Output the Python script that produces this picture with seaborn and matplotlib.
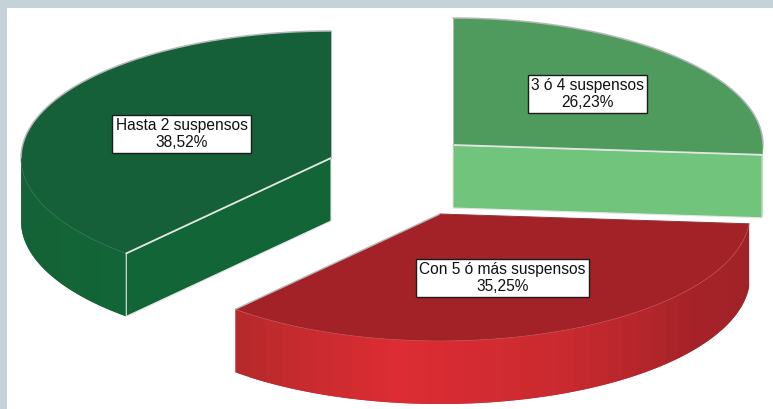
import numpy as np
import matplotlib
matplotlib.use("Agg")
import matplotlib.pyplot as plt
import seaborn as sns

# data, clockwise from 12 o'clock
labels = ["3 ó 4 suspensos", "Con 5 ó más suspensos", "Hasta 2 suspensos"]
shares = [26.23, 35.25, 38.52]

# look of each slice
top_colors = ["#4f9b5d", "#a32227", "#156038"]
cut_colors = ["#71c47c", None, "#116536"]
wall_colors = [
    ["#71c47c", "#71c47c"],
    ["#b62a2b", "#dd2c33", "#ca2a30", "#a62328", "#9f2227"],
    ["#156038", "#146337", "#116536"],
]
front_edge = ["#71c47c", "#c4504f", "#2f7a50"]
apexes = [(453, 145), (440, 214), (331, 158)]
label_pos = [(587.5, 94), (502.5, 278), (181.5, 134)]

RX, RY = 310, 127
DEPTH = 63
BAND = "#c5d2da"
GREY = "#b4b8b6"
PALE = "#e2e6e2"

sns.set_theme(style="white")
plt.rcParams["font.family"] = ["Liberation Sans", "DejaVu Sans"]

fig, ax = plt.subplots(figsize=(7.73, 4.09), dpi=100)
fig.subplots_adjust(0, 0, 1, 1)
ax.set_xlim(0, 773)
ax.set_ylim(409, 0)
ax.axis("off")
ax.axhspan(0, 8, color=BAND, lw=0, zorder=0)
ax.axvspan(0, 7, color=BAND, lw=0, zorder=0)


def rim(cx, cy, t):
    return cx + RX * np.cos(t), cy - RY * np.sin(t)


start = 90.0
for i, share in enumerate(shares):
    end = start - share * 3.6
    cx, cy = apexes[i]
    t = np.radians(np.linspace(start, end, 300))
    x, y = rim(cx, cy, t)

    # outer wall, only the part that faces the viewer
    lo, hi = max(end, -180.0), min(start, 0.0)
    if hi > lo:
        n = 36
        pal = sns.blend_palette(wall_colors[i], n)
        edges = np.radians(np.linspace(lo, hi, n + 1))
        for k in range(n):
            # each strip runs under the next one so no seams show
            ts = np.linspace(edges[k], edges[min(k + 2, n)], 8)
            wx, wy = rim(cx, cy, ts)
            ax.fill(np.r_[wx, wx[::-1]], np.r_[wy, wy[::-1] + DEPTH],
                    facecolor=pal[k], lw=0, zorder=2 + k * 0.001)

    # flat cut face towards the viewer
    cut_line = None
    if cut_colors[i] is not None:
        px, py = rim(cx, cy, np.radians(end if i == 0 else start))
        ax.fill([cx, px, px, cx], [cy, py, py + DEPTH, cy + DEPTH],
                facecolor=cut_colors[i], edgecolor=PALE, lw=0.8, zorder=3)
        cut_line = ([cx, px], [cy, py])

    # top face and its outline
    ax.fill(np.r_[cx, x], np.r_[cy, y], facecolor=top_colors[i], lw=0, zorder=4)
    back = np.sin(t) >= 0
    ax.plot(x[back], y[back], color=GREY, lw=1.1, zorder=5)
    ax.plot(x[~back], y[~back], color=front_edge[i], lw=0.5, zorder=5)
    if cut_line is not None:
        ax.plot(*cut_line, color=PALE, lw=1.3, zorder=5)
        ax.plot([cx, cx], [cy, cy - RY], color=GREY, lw=0.7, zorder=5)
    else:
        sx, sy = rim(cx, cy, np.radians(end))
        ax.plot([cx, sx], [cy, sy], color=GREY, lw=1.0, zorder=5)
        sx, sy = rim(cx, cy, np.radians(start))
        ax.plot([cx, sx], [cy, sy], color="#8f3a3c", lw=0.7, zorder=5)

    txt = f"{labels[i]}\n{share:.2f}".replace(".", ",") + "%"
    ax.text(*label_pos[i], txt, ha="center", va="center", fontsize=11.2,
            linespacing=1.1, color="#111111", zorder=6,
            bbox=dict(boxstyle="square,pad=0.2", fc="white", ec="#1c1c1c", lw=1.0))
    start = end

fig.savefig("out.png", dpi=100)
